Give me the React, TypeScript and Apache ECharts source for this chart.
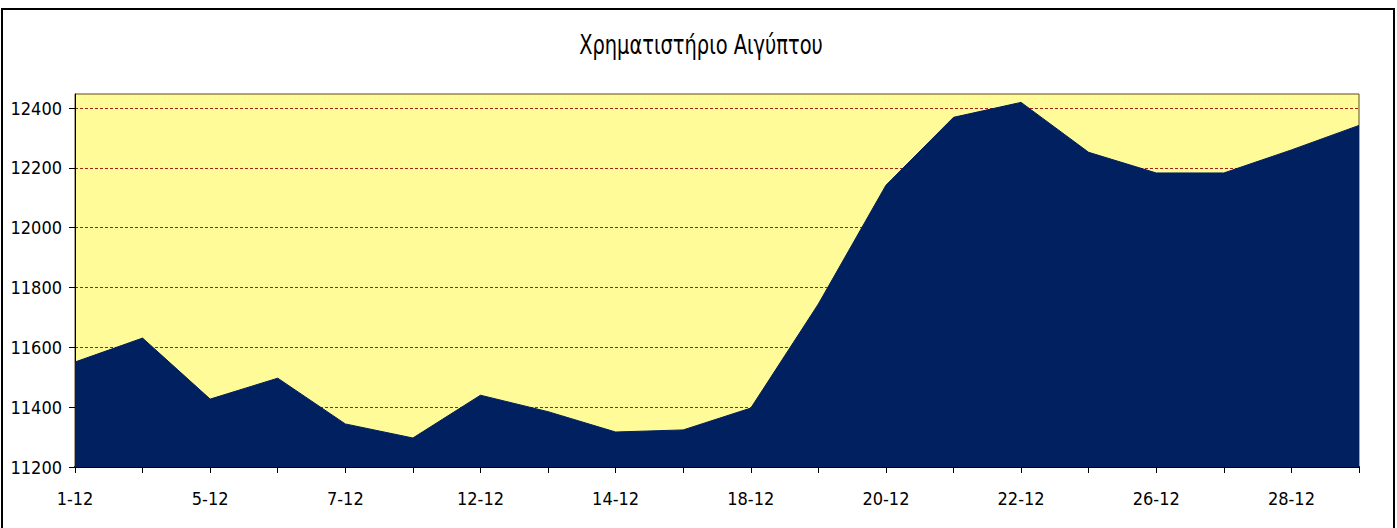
import React, { useEffect, useRef } from "react";
import * as echarts from "echarts";

const title = "Χρηματιστήριο Αιγύπτου";
const categories = [
  "1-12", "4-12", "5-12", "6-12", "7-12", "8-12", "12-12", "13-12", "14-12", "15-12",
  "18-12", "19-12", "20-12", "21-12", "22-12", "25-12", "26-12", "27-12", "28-12", "29-12",
];
const values = [
  11551, 11631, 11427, 11497, 11344, 11297, 11440, 11385, 11317, 11324,
  11397, 11745, 12142, 12369, 12419, 12252, 12183, 12183, 12260, 12342,
];
const yMin = 11200;
const yMax = 12447;
const yStep = 200;

const FONT = '"DejaVu Sans Condensed", "Liberation Sans", sans-serif';

export default function App() {
  const ref = useRef<HTMLDivElement>(null);
  useEffect(() => {
    if (!ref.current) return;
    const chart = echarts.init(ref.current, null, { renderer: "svg" });
    chart.setOption({
      animation: false,
      backgroundColor: "#ffffff",
      graphic: [
        {
          type: "rect",
          shape: { x: 2, y: 9, width: 1392, height: 540 },
          style: { fill: "none", stroke: "#000", lineWidth: 2 },
          silent: true,
        },
        {
          type: "text",
          x: 701,
          y: 45,
          scaleX: 0.8,
          style: {
            text: title,
            fontFamily: FONT,
            fontSize: 27,
            fill: "#000",
            textAlign: "center",
            textVerticalAlign: "middle",
          },
          silent: true,
        },
      ],
      grid: {
        left: 75,
        right: 38,
        top: 94,
        bottom: 61,
        show: true,
        backgroundColor: "#FFFB99",
        borderColor: "#5a4a20",
        borderWidth: 1,
      },
      xAxis: {
        type: "category",
        data: categories,
        boundaryGap: false,
        axisLine: { lineStyle: { color: "#000", width: 2 } },
        axisTick: { show: true, interval: 0, length: 6, lineStyle: { color: "#000", width: 1 } },
        axisLabel: {
          interval: 1,
          fontFamily: FONT,
          fontSize: 18,
          color: "#000",
          margin: 22,
        },
        splitLine: { show: false },
      },
      yAxis: {
        type: "value",
        min: yMin,
        max: yMax,
        interval: yStep,
        axisLine: { show: true, lineStyle: { color: "#000", width: 1 } },
        axisTick: { show: true, length: 6, lineStyle: { color: "#000" } },
        axisLabel: {
          showMaxLabel: false,
          formatter: (v: number) => String(v),
          fontFamily: FONT,
          fontSize: 18,
          color: "#000",
          margin: 13,
        },
        splitLine: {
          show: true,
          showMinLine: false,
          showMaxLine: false,
          lineStyle: { color: "#a8201a", type: [3, 2], width: 1 },
        },
      },
      series: [
        {
          type: "line",
          data: values,
          showSymbol: false,
          symbol: "none",
          lineStyle: { color: "#00205F", width: 1 },
          areaStyle: { color: "#00205F", opacity: 1 },
          z: 1,
        },
      ],
    });
    return () => chart.dispose();
  }, []);
  return (
    <div
      ref={ref}
      style={{ position: "fixed", left: 0, top: 0, width: 1397, height: 528 }}
    />
  );
}
